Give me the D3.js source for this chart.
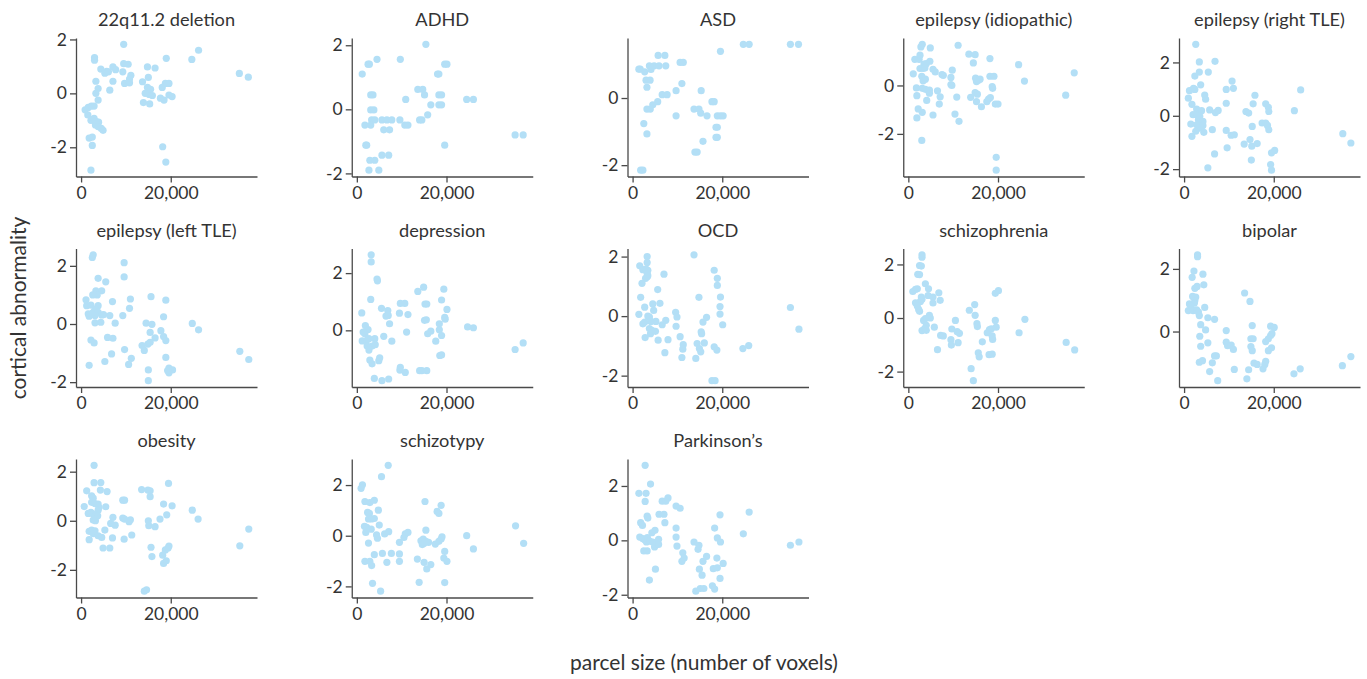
<!DOCTYPE html>
<html><head><meta charset="utf-8">
<script src="https://cdn.jsdelivr.net/npm/d3@7"></script>
<style>
html,body{margin:0;padding:0;background:#fff;}
svg text{font-family:Lato,"Open Sans",sans-serif;fill:#333;}
</style></head>
<body><svg id="chart" width="1367" height="679"></svg>
<script>
// ---- data: [parcel size (voxels), cortical abnormality] ----
const deletion22q = [[9500,1.82],[3000,1.33],[3000,1.23],[26200,1.6],[24700,1.26],[19000,1.3],[35300,0.74],[37300,0.6],[16500,0.94],[14800,0.98],[9500,1.1],[10500,1.08],[7100,0.98],[7700,0.88],[5700,0.82],[4400,0.9],[5300,0.75],[6100,0.8],[9300,0.8],[11100,0.67],[10800,0.53],[9700,0.37],[10800,0.39],[7100,0.45],[3300,0.45],[13700,0.43],[15000,0.59],[18800,0.37],[19600,0.37],[18100,0.22],[3800,0.18],[6400,0.12],[3300,0],[14800,0.22],[15500,0.15],[15200,-0.04],[15900,-0.08],[14300,0],[13900,-0.34],[15300,-0.39],[17700,-0.18],[18500,-0.25],[19600,-0.06],[20300,-0.12],[3800,-0.25],[900,-0.61],[1600,-0.52],[2300,-0.47],[2900,-0.47],[1500,-0.8],[2200,-1.0],[2900,-0.93],[3400,-1.05],[3900,-1.07],[3200,-1.17],[3800,-1.23],[4500,-1.3],[4900,-1.37],[1800,-1.66],[2500,-1.62],[2500,-1.93],[2200,-2.85],[18200,-1.98],[18900,-2.55]];
const adhd = [[15400,2.03],[4500,1.56],[9700,1.56],[1200,1.1],[2500,1.41],[2800,1.41],[19600,1.41],[20100,1.41],[18000,1.1],[18300,1.1],[13600,0.62],[14700,0.62],[15100,0.45],[10900,0.31],[16500,0.14],[18300,0.45],[18900,0.45],[18300,0.14],[18900,0.14],[24500,0.31],[26000,0.31],[3100,0.45],[3600,0.45],[3100,-0.02],[3800,-0.02],[3300,-0.33],[4000,-0.33],[5600,-0.33],[6700,-0.33],[7800,-0.33],[9600,-0.33],[1800,-0.49],[3100,-0.49],[10700,-0.49],[11400,-0.49],[6000,-0.64],[7300,-0.64],[14000,-0.33],[14500,-0.33],[15800,-0.17],[2000,-1.12],[2200,-1.12],[19600,-1.12],[35300,-0.8],[37100,-0.8],[2900,-1.59],[4000,-1.59],[5600,-1.43],[7100,-1.43],[2700,-1.9],[4900,-1.9]];
const asd = [[24700,1.6],[26000,1.6],[35200,1.6],[37000,1.6],[19600,1.39],[5700,1.27],[7200,1.27],[1400,0.86],[1700,0.86],[2700,0.78],[3750,0.96],[4800,0.96],[5900,0.96],[7400,0.96],[4100,0.85],[3000,0.53],[3900,0.53],[3200,0.32],[10600,1.06],[11300,1.06],[11000,0.43],[9700,0.22],[6600,0.1],[7700,0.1],[15300,0.22],[5600,-0.11],[4500,-0.2],[3200,-0.33],[3950,-0.33],[13700,-0.33],[14800,-0.33],[15200,-0.45],[17700,-0.11],[18200,-0.11],[16600,-0.53],[9700,-0.53],[18900,-0.53],[19600,-0.53],[20200,-0.53],[18600,-0.87],[18900,-0.87],[18600,-1.17],[18900,-1.17],[15700,-1.29],[2500,-0.76],[3200,-1.07],[13900,-1.61],[14400,-1.61],[1800,-2.15],[2300,-2.15]];
const epilepsyIdiopathic = [[3100,1.7],[2800,1.59],[4900,1.55],[11100,1.66],[13500,1.29],[14900,1.27],[1450,1.08],[2400,1.08],[2600,1.25],[4800,1.0],[3500,0.88],[4000,0.9],[18200,1.11],[14500,0.93],[24600,0.86],[2600,0.7],[3300,0.7],[3700,0.72],[5500,0.67],[6000,0.56],[7500,0.45],[7800,0.42],[9800,0.63],[1100,0.48],[3000,0.38],[3800,0.26],[3300,0.19],[9500,0.33],[9500,0.04],[9700,0],[15000,0.3],[15600,0.22],[16000,0.26],[15200,0.16],[18200,0.38],[19100,0.38],[18700,-0.05],[18800,-0.12],[25900,0.18],[37000,0.52],[35100,-0.4],[1800,-0.1],[3100,-0.12],[3800,-0.16],[4700,-0.19],[4700,-0.32],[6500,-0.22],[1900,-0.42],[7100,-0.47],[10800,-0.48],[13900,-0.49],[14900,-0.3],[15400,-0.36],[4100,-0.62],[6900,-0.77],[15200,-0.67],[16300,-0.88],[17500,-0.67],[17900,-0.56],[18300,-0.5],[19400,-0.77],[20000,-0.77],[2200,-0.97],[3100,-1.11],[1900,-1.34],[5500,-1.22],[10400,-1.18],[11300,-1.48],[3000,-2.27],[19600,-2.97],[19600,-3.5]];
const epilepsyRightTLE = [[2600,2.68],[3400,2.02],[6900,2.04],[2400,1.49],[3400,1.64],[5400,1.64],[3700,1.16],[10700,1.3],[11000,1.03],[9400,0.99],[1200,0.94],[2100,1.03],[2400,0.99],[26000,0.97],[950,0.66],[4600,0.78],[4800,0.62],[15800,0.77],[1750,0.43],[9400,0.47],[15400,0.45],[18200,0.45],[18800,0.32],[18900,0.16],[24600,0.19],[2800,0.25],[3900,0.19],[5700,0.22],[7000,0.12],[7600,0.2],[13800,0.16],[14400,0.1],[2000,0.04],[2800,0.04],[3500,-0.02],[3200,-0.15],[4200,-0.21],[1500,-0.31],[2800,-0.34],[4200,-0.36],[3500,-0.46],[2600,-0.58],[4400,-0.62],[1750,-0.77],[6300,-0.52],[9400,-0.55],[10500,-0.73],[11200,-0.71],[15200,-0.4],[17400,-0.27],[18200,-0.27],[18600,-0.36],[18900,-0.52],[13400,-1.06],[14700,-0.89],[15100,-1.14],[16300,-1.04],[9600,-1.2],[6800,-1.43],[19500,-1.39],[20200,-1.3],[15000,-1.66],[5300,-1.95],[19300,-1.83],[19500,-2.04],[35400,-0.67],[37200,-1.02]];
const epilepsyLeftTLE = [[2700,2.38],[2500,2.29],[9600,2.11],[9600,1.62],[3800,1.57],[5500,1.45],[3300,1.14],[4600,1.14],[3600,1.0],[2600,1.0],[1100,0.83],[1250,0.63],[2200,0.65],[3800,0.63],[3100,0.51],[7000,0.77],[11000,0.86],[10800,0.54],[15600,0.94],[18900,0.82],[1600,0.35],[1800,0.27],[2700,0.4],[3800,0.4],[4600,0.31],[5000,0.32],[3100,0.29],[2400,0.35],[6400,0.29],[9300,0.29],[3100,0.04],[4400,0.06],[7600,0.03],[14500,0.03],[15800,-0.01],[18400,0.25],[24800,0.02],[26200,-0.2],[15400,-0.29],[17800,-0.23],[16500,-0.48],[18400,-0.43],[18900,-0.57],[2200,-0.55],[2900,-0.65],[5900,-0.46],[7100,-0.49],[13600,-0.74],[14100,-0.91],[14900,-0.69],[15400,-0.63],[9700,-0.88],[6800,-1.03],[11200,-1.18],[10600,-1.39],[5300,-1.29],[1800,-1.42],[18900,-1.15],[15000,-1.58],[19600,-1.52],[20400,-1.58],[19600,-1.68],[19300,-1.6],[15000,-1.95],[35400,-0.94],[37400,-1.22]];
const depression = [[3200,2.64],[3200,2.39],[4500,1.79],[4600,1.73],[3100,1.08],[1100,0.61],[5500,0.77],[6900,0.69],[6500,0.5],[7000,0.52],[9700,0.94],[10700,0.94],[9500,0.6],[11400,0.55],[7300,0.23],[13600,1.36],[14900,1.51],[15200,0.92],[15600,0.92],[15100,0.35],[15500,0.37],[19400,1.44],[18900,1.06],[20100,0.73],[19600,0.45],[19700,0.39],[18400,0.23],[18400,0.02],[18900,-0.18],[17600,-0.38],[15800,-0.12],[16500,-0.03],[11100,-0.06],[1900,0.17],[2500,0.03],[1800,-0.12],[1400,-0.06],[1200,-0.37],[2200,-0.35],[2700,-0.29],[4000,-0.29],[6000,-0.21],[7800,-0.38],[2300,-0.55],[2700,-0.69],[3400,-0.55],[4100,-0.5],[2900,-1.04],[4900,-1.06],[5100,-0.96],[3400,-1.17],[3900,-1.68],[5600,-1.76],[7100,-1.7],[9700,-1.29],[9600,-1.39],[10800,-1.47],[14000,-1.41],[14500,-1.41],[15600,-1.41],[18500,-0.88],[18900,-0.86],[24700,0.12],[26000,0.09],[35300,-0.67],[37100,-0.44]];
const ocd = [[3250,2.0],[3250,1.8],[13700,2.06],[1600,1.69],[2300,1.56],[3000,1.58],[3400,1.54],[3250,1.44],[3250,1.32],[2900,1.27],[3400,1.36],[2100,1.1],[7000,1.41],[5600,0.89],[1800,0.63],[2700,0.3],[4500,0.41],[6100,0.43],[4700,0.19],[1400,0.06],[3400,0],[3750,-0.03],[2300,-0.26],[2700,-0.2],[4100,-0.18],[5200,-0.18],[6600,-0.29],[7400,-0.14],[3750,-0.42],[4300,-0.48],[4000,-0.59],[5100,-0.51],[2800,-0.72],[5700,-0.81],[7900,-0.79],[7200,-1.23],[9600,0.13],[9900,-0.03],[9700,-0.34],[10600,-0.69],[11300,-0.96],[11200,-1.11],[11000,-1.39],[14800,0.63],[15700,-0.2],[15300,-0.53],[15400,-0.59],[16500,-0.04],[16000,-0.9],[14400,-0.92],[14900,-1.09],[15200,-1.2],[14100,-1.42],[18200,1.54],[18900,1.27],[18900,1.03],[19600,0.64],[19500,0.32],[19500,0.07],[20100,-0.29],[18200,-1.03],[18800,-1.14],[17700,-2.17],[18400,-2.17],[24600,-1.09],[25900,-0.99],[35200,0.29],[37100,-0.44]];
const schizophrenia = [[3050,2.36],[3050,2.27],[2500,1.96],[2900,1.94],[2100,1.63],[2500,1.62],[3800,1.28],[4500,1.09],[1000,0.99],[1600,1.07],[2000,1.09],[6800,0.94],[4400,0.84],[5500,0.78],[2900,0.78],[3050,0.7],[2700,0.62],[7100,0.66],[5500,0.56],[1600,0.57],[2000,0.45],[2300,0.32],[2500,0.25],[4700,0.1],[4900,0],[3400,-0.09],[3800,-0.02],[4000,-0.27],[3600,-0.4],[3050,-0.47],[4000,-0.46],[5800,-0.34],[7200,-0.65],[7800,-0.67],[6500,-1.18],[9700,-0.41],[10500,-0.09],[10900,-0.51],[11400,-0.57],[9500,-0.81],[9600,-1.01],[11100,-0.92],[13600,0.29],[14800,0.5],[14900,0.1],[15300,-0.21],[15400,-0.32],[16500,-0.89],[15600,-1.3],[15800,-1.45],[14000,-1.89],[14500,-2.34],[17600,-0.55],[18100,-0.43],[18500,-0.4],[18700,-0.67],[18800,-0.8],[19400,-0.09],[19600,-0.34],[19400,0.92],[20100,1.02],[18000,-1.37],[18700,-1.35],[24700,-0.55],[26000,-0.05],[35200,-0.91],[37100,-1.19]];
const bipolar = [[3000,2.45],[3000,2.39],[2200,1.93],[1800,1.73],[4200,1.83],[4400,1.49],[2400,1.38],[2900,1.44],[1900,1.12],[2600,1.1],[2400,0.99],[2300,0.91],[1200,0.88],[1500,0.81],[950,0.67],[2000,0.67],[2800,0.69],[3200,0.62],[3400,0.51],[4600,0.77],[5300,0.44],[6800,0.39],[3700,0.22],[4800,0.05],[3500,-0.15],[3700,-0.47],[5300,-0.36],[3400,-0.98],[4100,-0.93],[6300,-1.0],[7200,-0.78],[6800,-0.78],[5700,-1.28],[7500,-1.57],[9400,0.03],[9400,-0.34],[9700,-0.45],[10500,-0.43],[11000,-0.57],[11200,-1.21],[13500,1.23],[14700,0.96],[15200,0.19],[14900,-0.23],[15400,-0.23],[14900,-0.48],[15200,-0.61],[15600,-1.01],[16300,-1.05],[14400,-1.22],[14000,-1.51],[17600,-1.19],[18000,-1.05],[18200,-0.95],[18200,-0.32],[18800,-0.23],[19300,-0.13],[19600,-0.07],[18800,-0.61],[19500,-0.52],[19300,0.17],[20100,0.13],[24500,-1.35],[25900,-1.19],[35300,-1.09],[37200,-0.8]];
const obesity = [[2900,2.26],[2900,1.55],[4400,1.56],[1250,1.22],[4300,1.25],[5800,1.19],[2350,1.02],[2700,0.92],[2350,0.75],[3100,0.7],[3800,0.68],[700,0.58],[4000,0.54],[3800,0.43],[5500,0.57],[1600,0.3],[2200,0.34],[2700,0.27],[3400,0.24],[3700,0.2],[2700,0.03],[3200,0],[5300,-0.38],[1800,-0.43],[2350,-0.38],[3100,-0.41],[2700,-0.52],[3800,-0.61],[4600,-0.68],[1800,-0.77],[4900,-1.11],[6400,-1.11],[7000,-0.7],[7100,0.14],[6600,-0.11],[7600,-0.18],[9300,0.84],[9700,0.84],[9300,0.11],[9700,0.07],[9600,-0.75],[10700,-0.04],[11000,0.04],[11300,-0.58],[13500,1.27],[14900,1.25],[15400,1.22],[15400,0.98],[15000,0],[15100,-0.2],[16500,-0.24],[15600,-1.08],[15800,-1.46],[17600,0.07],[18400,0.68],[19100,0.24],[19500,1.52],[20300,0.61],[18800,-1.19],[19600,-1.03],[19400,-1.11],[18200,-1.4],[18400,-1.74],[19000,-1.63],[14100,-2.87],[14600,-2.81],[24800,0.43],[26100,0.07],[35400,-1.02],[37400,-0.34]];
const schizotypy = [[1250,2.01],[950,1.87],[7000,2.78],[5500,2.33],[1800,1.35],[2900,1.31],[3900,1.4],[2400,0.92],[2800,0.88],[2600,0.66],[3300,0.66],[3900,0.68],[4800,1.01],[1700,0.37],[2200,0.33],[2000,0.13],[3200,0.26],[5000,0.42],[2600,-0.29],[4400,0.03],[4600,-0.1],[6200,0.07],[7100,0.16],[5700,-0.7],[7700,-0.7],[3900,-0.75],[1800,-1.01],[2900,-1.01],[3300,-1.18],[6700,-1.05],[9500,-0.26],[9500,-0.72],[9500,-1.01],[10500,-0.07],[10800,0.07],[11400,0.13],[3500,-1.88],[5300,-2.19],[15200,1.35],[15400,0.22],[14300,-0.2],[14800,-0.13],[15400,-0.22],[16000,-0.26],[14600,-0.35],[15000,-0.3],[13500,-0.92],[15000,-1.05],[15600,-1.31],[16500,-1.14],[13900,-1.84],[17900,0.96],[18300,0.88],[18800,1.2],[17500,-0.33],[18300,-0.22],[18800,-0.13],[19000,-0.04],[19600,-0.62],[19400,-0.88],[20100,-1.01],[19600,-1.85],[24500,0],[26000,-0.52],[35400,0.39],[37200,-0.3]];
const parkinsons = [[2800,2.76],[4000,2.07],[1400,1.73],[3000,1.73],[2800,1.43],[6600,1.44],[7400,1.44],[7900,1.56],[9700,1.26],[10600,1.18],[3250,0.89],[3400,0.82],[5900,0.96],[7000,0.96],[1800,0.65],[2200,0.55],[7200,0.65],[9700,0.45],[5000,0.37],[4300,0.28],[9700,0.12],[1600,0.12],[2300,0.06],[2700,0.02],[3300,0.1],[3100,-0.06],[3800,-0.03],[4500,-0.06],[4900,-0.24],[5800,-0.15],[5800,0.04],[2500,-0.39],[3250,-0.39],[9900,-0.21],[5100,-1.06],[3750,-1.46],[11200,-0.46],[11000,-0.77],[11500,-0.65],[13700,-0.06],[14800,-0.18],[14600,-0.33],[15700,-0.77],[16500,-0.59],[14900,-1.06],[15500,-1.28],[14100,-1.87],[15100,-1.77],[15900,-1.77],[17800,-1.67],[18300,-1.79],[18300,0.45],[18900,0.09],[19600,-0.06],[19500,0.94],[18800,-0.65],[18000,-1.04],[18900,-1.01],[19500,-1.4],[20200,-0.85],[24700,0.24],[26000,1.04],[35200,-0.18],[37100,-0.06]];

const titles = ["22q11.2 deletion","ADHD","ASD","epilepsy (idiopathic)","epilepsy (right TLE)","epilepsy (left TLE)","depression","OCD","schizophrenia","bipolar","obesity","schizotypy","Parkinson\u2019s"];
const series = [deletion22q, adhd, asd, epilepsyIdiopathic, epilepsyRightTLE, epilepsyLeftTLE, depression, ocd, schizophrenia, bipolar, obesity, schizotypy, parkinsons];
const xTicks = [0, 20000];
const yTicks = [-2, 0, 2];
const xLabel = "parcel size (number of voxels)";
const yLabel = "cortical abnormality";

// ---- layout ----
const svg = d3.select("#chart");
const cols = 5, left0 = 76, colStep = 275.75, plotW = 181, top0 = 38, rowStep = 210.5, plotH = 138.5;
const dotColor = "#b3dff6", axisColor = "#4a4a4a";

function padded(ext){ const p = (ext[1]-ext[0])*0.05; return [ext[0]-p, ext[1]+p]; }
const xAll = padded(d3.extent(series.flat(), d => d[0]));

series.forEach((data, i) => {
  const r = Math.floor(i/cols), c = i % cols;
  const gx = left0 + c*colStep, gy = top0 + r*rowStep;
  const g = svg.append("g").attr("transform", `translate(${gx},${gy})`);
  const x = d3.scaleLinear().domain(xAll).range([0, plotW]);
  const yd = padded(d3.extent(data, d => d[1]));
  const y = d3.scaleLinear().domain(yd).range([plotH, 0]);

  g.selectAll("circle").data(data).join("circle")
    .attr("cx", d => x(d[0])).attr("cy", d => y(d[1])).attr("r", 3.6)
    .attr("fill", dotColor);

  const ya = d3.axisLeft(y).tickValues(yTicks.filter(t => t >= yd[0] && t <= yd[1]))
    .tickSizeInner(6).tickSizeOuter(0).tickPadding(3)
    .tickFormat(d => d < 0 ? "-" + Math.abs(d) : String(d));
  const xa = d3.axisBottom(x).tickValues(xTicks).tickSizeInner(6).tickSizeOuter(0).tickPadding(4)
    .tickFormat(d3.format(","));
  const gY = g.append("g").call(ya);
  const gX = g.append("g").attr("transform", `translate(0,${plotH})`).call(xa);
  [gX, gY].forEach(a => {
    a.selectAll("path,line").attr("stroke", axisColor).attr("stroke-width", 1.3);
    a.selectAll("text").attr("font-size", 17.5).attr("fill", "#333").style("font-family", "Lato, 'Open Sans', sans-serif");
  });

  g.append("text").attr("x", plotW/2).attr("y", -12).attr("text-anchor", "middle")
    .attr("font-size", 18.2).text(titles[i]);
});

svg.append("text").attr("transform", "translate(26,308) rotate(-90)")
  .attr("text-anchor", "middle").attr("font-size", 21).text(yLabel);
svg.append("text").attr("x", 704).attr("y", 670)
  .attr("text-anchor", "middle").attr("font-size", 21).text(xLabel);
</script></body></html>
